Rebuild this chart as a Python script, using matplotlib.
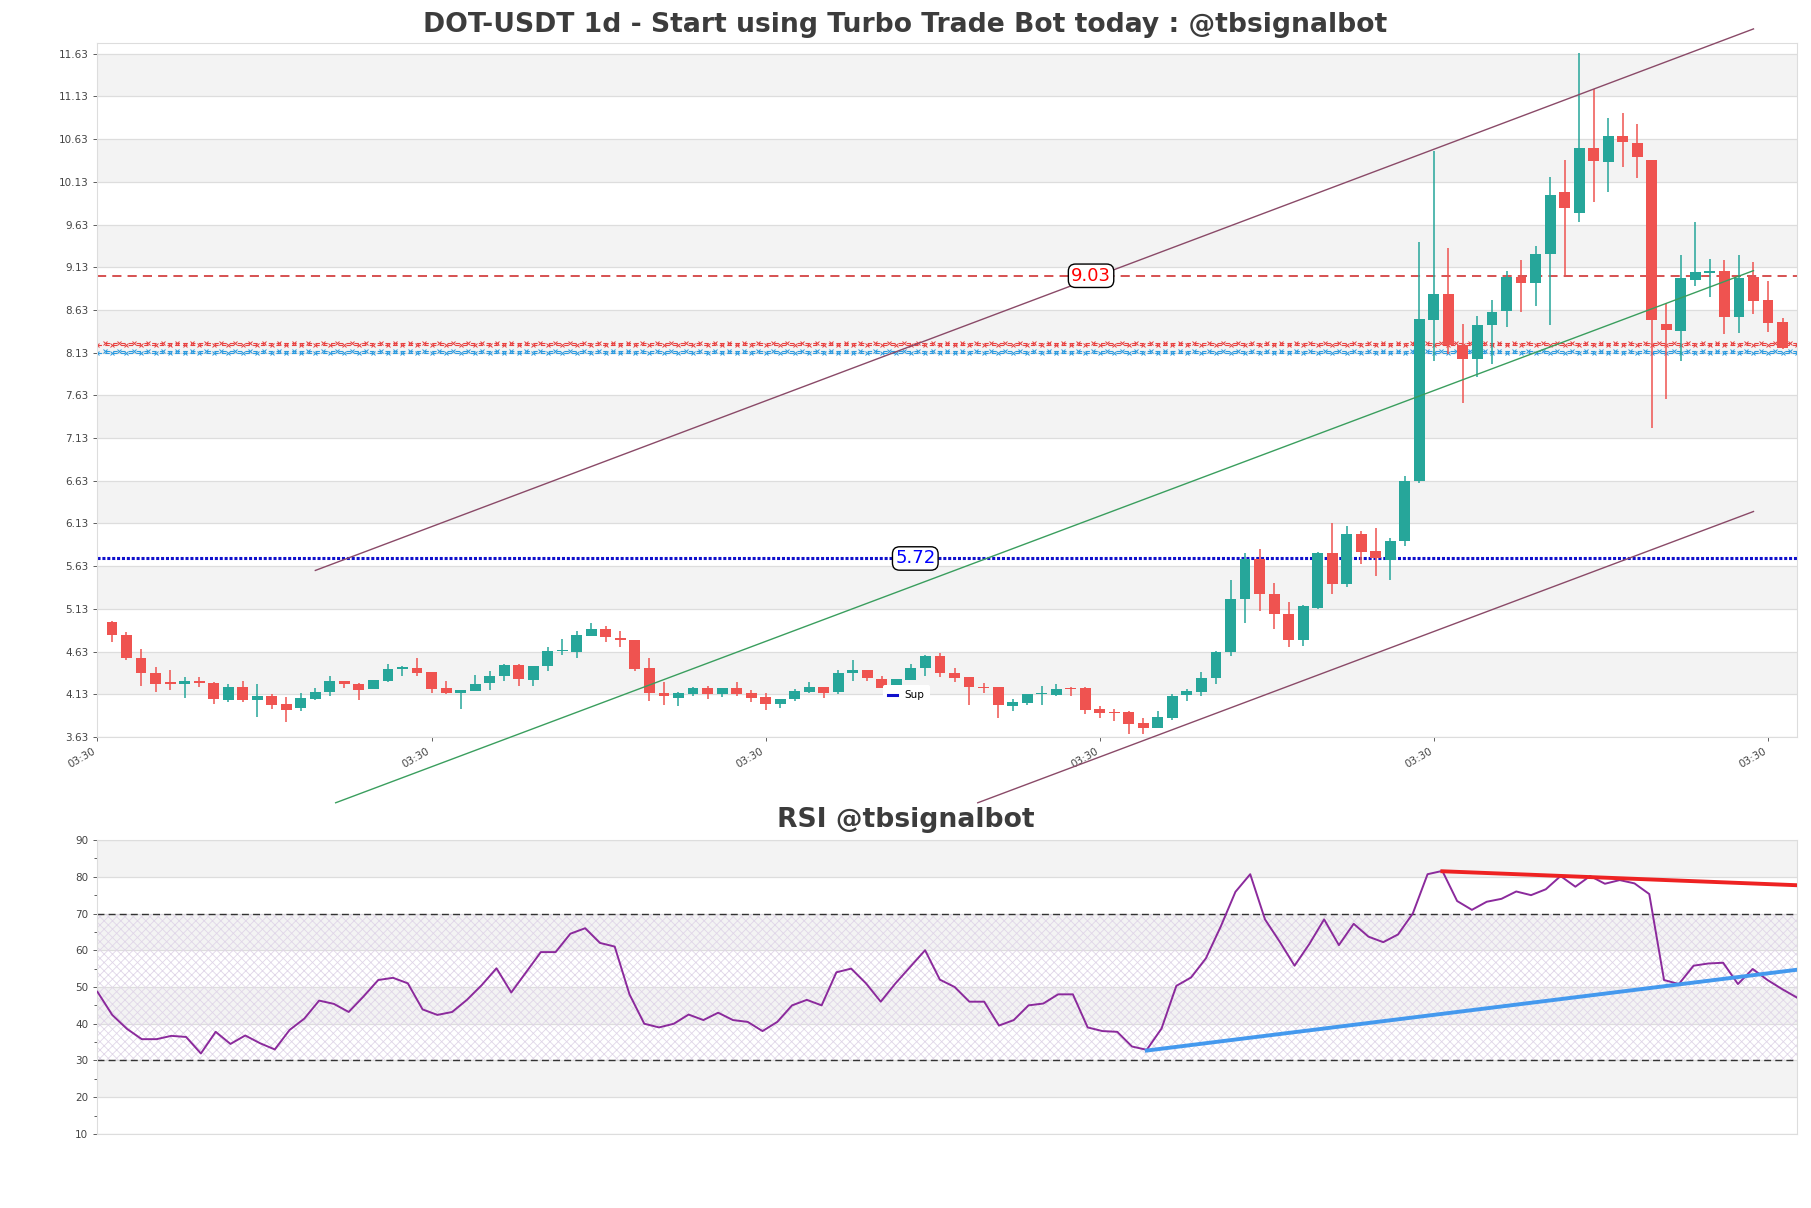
import numpy as np
import matplotlib
matplotlib.use("Agg")
from matplotlib import pyplot as plt
from matplotlib.lines import Line2D

# daily candles
opens = [4.98, 4.82, 4.56, 4.38, 4.27, 4.25, 4.29, 4.26, 4.06, 4.21,
         4.06, 4.11, 4.02, 3.97, 4.08, 4.16, 4.29, 4.25, 4.19, 4.29,
         4.43, 4.44, 4.39, 4.20, 4.15, 4.17, 4.26, 4.34, 4.47, 4.30,
         4.46, 4.64, 4.63, 4.81, 4.89, 4.79, 4.77, 4.44, 4.15, 4.09,
         4.13, 4.20, 4.13, 4.20, 4.14, 4.10, 4.02, 4.07, 4.16, 4.21,
         4.16, 4.38, 4.41, 4.31, 4.22, 4.30, 4.44, 4.58, 4.38, 4.33,
         4.22, 4.21, 3.99, 4.03, 4.13, 4.12, 4.20, 4.20, 3.96, 3.92,
         3.92, 3.79, 3.74, 3.85, 4.12, 4.16, 4.32, 4.63, 5.24, 5.71,
         5.31, 5.07, 4.77, 5.14, 5.79, 5.42, 6.01, 5.81, 5.70, 5.93,
         6.63, 8.51, 8.82, 8.22, 8.06, 8.45, 8.62, 9.02, 8.94, 9.28,
         10.01, 9.77, 10.52, 10.36, 10.67, 10.59, 10.39, 8.47, 8.38, 8.98,
         9.06, 9.09, 8.55, 9.02, 8.75, 8.49]
highs = [4.99, 4.86, 4.66, 4.45, 4.41, 4.33, 4.33, 4.27, 4.25, 4.29,
         4.25, 4.13, 4.10, 4.14, 4.20, 4.35, 4.29, 4.26, 4.30, 4.48,
         4.46, 4.56, 4.39, 4.29, 4.18, 4.36, 4.40, 4.48, 4.48, 4.46,
         4.68, 4.78, 4.87, 4.97, 4.93, 4.87, 4.77, 4.56, 4.27, 4.16,
         4.22, 4.23, 4.20, 4.27, 4.18, 4.15, 4.08, 4.19, 4.27, 4.22,
         4.41, 4.53, 4.42, 4.34, 4.31, 4.48, 4.59, 4.61, 4.44, 4.33,
         4.26, 4.21, 4.07, 4.13, 4.23, 4.25, 4.22, 4.22, 3.99, 3.96,
         3.93, 3.85, 3.93, 4.13, 4.19, 4.39, 4.64, 5.47, 5.78, 5.83,
         5.43, 5.21, 5.17, 5.80, 6.13, 6.10, 6.04, 6.08, 5.96, 6.69,
         9.43, 10.49, 9.36, 8.47, 8.56, 8.75, 9.08, 9.22, 9.38, 10.19,
         10.39, 11.64, 11.22, 10.88, 10.93, 10.81, 10.39, 8.71, 9.27, 9.66,
         9.23, 9.21, 9.27, 9.19, 8.97, 8.54]
lows = [4.74, 4.53, 4.23, 4.16, 4.18, 4.09, 4.21, 4.02, 4.04, 4.04,
        3.86, 3.96, 3.81, 3.93, 4.06, 4.11, 4.20, 4.06, 4.19, 4.27,
        4.34, 4.35, 4.14, 4.13, 3.96, 4.17, 4.18, 4.28, 4.23, 4.23,
        4.40, 4.59, 4.56, 4.81, 4.74, 4.68, 4.40, 4.05, 4.00, 3.99,
        4.11, 4.07, 4.10, 4.11, 4.04, 3.95, 3.97, 4.05, 4.15, 4.09,
        4.13, 4.29, 4.28, 4.20, 4.22, 4.30, 4.35, 4.33, 4.27, 4.00,
        4.14, 3.85, 3.94, 4.00, 4.00, 4.11, 4.11, 3.90, 3.85, 3.82,
        3.66, 3.67, 3.74, 3.83, 4.05, 4.11, 4.25, 4.58, 4.97, 5.11,
        4.90, 4.68, 4.70, 5.13, 5.30, 5.39, 5.65, 5.52, 5.47, 5.87,
        6.60, 8.03, 8.11, 7.54, 7.84, 8.00, 8.43, 8.60, 8.68, 8.45,
        9.04, 9.66, 9.89, 10.01, 10.30, 10.18, 7.25, 7.59, 8.03, 8.91,
        8.78, 8.35, 8.36, 8.58, 8.37, 8.17]
closes = [4.82, 4.55, 4.38, 4.25, 4.25, 4.28, 4.26, 4.07, 4.22, 4.06,
          4.11, 4.01, 3.95, 4.09, 4.16, 4.29, 4.25, 4.18, 4.30, 4.43,
          4.45, 4.38, 4.19, 4.15, 4.18, 4.25, 4.35, 4.47, 4.31, 4.46,
          4.64, 4.65, 4.82, 4.89, 4.80, 4.76, 4.43, 4.15, 4.11, 4.14,
          4.20, 4.13, 4.20, 4.13, 4.09, 4.02, 4.08, 4.17, 4.21, 4.15,
          4.38, 4.41, 4.32, 4.20, 4.31, 4.44, 4.58, 4.38, 4.32, 4.21,
          4.20, 4.00, 4.04, 4.13, 4.135, 4.19, 4.19, 3.95, 3.91, 3.91,
          3.78, 3.74, 3.86, 4.11, 4.17, 4.32, 4.63, 5.25, 5.71, 5.30,
          5.07, 4.77, 5.16, 5.79, 5.42, 6.01, 5.80, 5.73, 5.93, 6.63,
          8.52, 8.82, 8.22, 8.06, 8.45, 8.61, 9.01, 8.94, 9.29, 9.98,
          9.82, 10.52, 10.37, 10.67, 10.60, 10.42, 8.51, 8.39, 9.00, 9.07,
          9.09, 8.55, 9.00, 8.74, 8.48, 8.18]

rsi = [48.7, 42.4, 38.6, 35.8, 35.8, 36.7, 36.4, 31.9, 37.8, 34.5,
       36.8, 34.7, 33.0, 38.3, 41.4, 46.3, 45.4, 43.2, 47.4, 51.9,
       52.5, 51.0, 43.9, 42.4, 43.2, 46.5, 50.5, 55.1, 48.5, 54.0,
       59.5, 59.5, 64.5, 66.0, 62.0, 61.0, 48.0, 40.0, 39.0, 40.0,
       42.5, 41.0, 43.0, 41.0, 40.5, 38.0, 40.5, 45.0, 46.5, 45.0,
       54.0, 55.0, 51.0, 46.0, 51.0, 55.5, 60.0, 52.0, 50.0, 46.0,
       46.0, 39.5, 41.0, 45.0, 45.5, 48.0, 48.0, 39.0, 38.0, 37.8,
       33.8, 32.9, 38.7, 50.3, 52.6, 57.8, 66.4, 75.9, 80.7, 68.4,
       62.3, 55.8, 61.7, 68.4, 61.4, 67.2, 63.7, 62.2, 64.3, 70.0,
       80.7, 81.6, 73.4, 71.0, 73.2, 74.0, 76.0, 75.0, 76.6, 80.2,
       77.3, 80.2, 78.1, 79.1, 78.2, 75.3, 51.9, 50.8, 55.8, 56.4,
       56.6, 50.8, 54.9, 51.9, 49.4, 47.1]

res_level = 9.03
sup_level = 5.72
pivot_red = [8.22, 8.24]
pivot_blue = [8.13, 8.15]

# channel lines (index, price)
chan_upper = [(14, 5.58), (113, 11.92)]
chan_mid = [(15.4, 2.86), (113, 9.09)]
chan_lower = [(59.6, 2.86), (113, 6.27)]
rsi_res = [(91, 81.5), (115, 77.7)]
rsi_sup = [(71, 32.7), (115, 54.7)]

up_col = '#26a69a'
down_col = '#ef5350'
band_col = '#f3f3f3'
grid_col = '#dddddd'
txt_col = '#444444'

fig = plt.figure(figsize=(18.11, 12.08), dpi=100)
ax = fig.add_axes([0.0538, 0.3899, 0.9385, 0.5745])
ax2 = fig.add_axes([0.0538, 0.0613, 0.9385, 0.2433])

n = len(closes)
x = np.arange(n)
o = np.array(opens); c = np.array(closes); h = np.array(highs); l = np.array(lows)
cols = [up_col if cc >= oo else down_col for oo, cc in zip(o, c)]

ymin, ymax = 3.63, 11.755
yt = np.arange(ymin, ymax, 0.5)
for k in range(len(yt) - 1):
    if k % 2 == 1:
        ax.axhspan(yt[k], yt[k + 1], color=band_col, zorder=0, lw=0)
for v in yt:
    ax.axhline(v, color=grid_col, lw=0.9, zorder=0.5)

ax.vlines(x, l, h, color=cols, lw=1.1, zorder=3)
body = np.maximum(np.abs(c - o), 0.012)
ax.bar(x, body, bottom=np.minimum(o, c), width=0.75, color=cols, zorder=4, lw=0)

# levels
ax.axhline(res_level, color='#cc2222', lw=1.1, ls=(0, (6, 4)), zorder=2)
ax.axhline(sup_level, color='#1010cc', lw=2.2, ls=(0, (1, 0.6)), zorder=2)
xx = np.arange(-1, 116.01, 1.0)
for lev, off in zip(pivot_red, [0, 0.5]):
    ax.plot(xx + off, [lev] * len(xx), color='#e8403f', lw=0.8, ls=(0, (4, 3)),
            marker='x', ms=2.6, mew=0.7, zorder=2, clip_on=True)
for lev, off in zip(pivot_blue, [0, 0.5]):
    ax.plot(xx + off, [lev] * len(xx), color='#2a9ae0', lw=0.8, ls=(0, (4, 3)),
            marker='x', ms=2.6, mew=0.7, zorder=2, clip_on=True)
bb = dict(boxstyle='round,pad=0.15,rounding_size=0.4', fc='white', ec='black', lw=1)
ax.text(67.4, res_level, '%.2f' % res_level, color='red', fontsize=13, ha='center', va='center', bbox=bb, zorder=6)
ax.text(55.3, sup_level, '%.2f' % sup_level, color='blue', fontsize=13, ha='center', va='center', bbox=bb, zorder=6)

for pts, col in [(chan_upper, '#8a4a68'), (chan_mid, '#3a9e5e'), (chan_lower, '#8a4a68')]:
    ax.plot([pts[0][0], pts[1][0]], [pts[0][1], pts[1][1]], color=col, lw=1.0, clip_on=False, zorder=5)

ax.set_xlim(-1, 116)
ax.set_ylim(ymin, ymax)
ax.set_yticks(yt)
ax.set_yticklabels(['%.2f' % v for v in yt])
xt = np.arange(-1, 116, 23)
ax.set_xticks(xt)
ax.set_xticklabels(['03:30'] * len(xt), rotation=30, ha='right')
ax.tick_params(axis='both', labelsize=7.5, colors=txt_col, length=3, width=0.6)
for s in ax.spines.values():
    s.set_color(grid_col)
sup_handle = Line2D([], [], color='#1010cc', lw=2.2)
leg = ax.legend([sup_handle], ['Sup'], loc='center', bbox_to_anchor=(0.476, 0.06), fontsize=7.5,
                frameon=True, handlelength=0.8, borderpad=0.5)
leg.get_frame().set_edgecolor('none')
leg.get_frame().set_alpha(1)

# RSI panel
for lo, hi in [(20, 30), (40, 50), (60, 70), (80, 90)]:
    ax2.axhspan(lo, hi, color=band_col, zorder=0, lw=0)
for v in range(10, 91, 10):
    ax2.axhline(v, color=grid_col, lw=0.9, zorder=0.5)
plt.rcParams['hatch.linewidth'] = 0.6
ax2.axhspan(30, 70, facecolor='none', edgecolor='#e0d6e8', hatch='xxxx', lw=0, zorder=0.6)
ax2.axhline(70, color='#333333', lw=1.0, ls=(0, (5, 3)), zorder=2)
ax2.axhline(30, color='#333333', lw=1.0, ls=(0, (5, 3)), zorder=2)
ax2.plot(x, rsi, color='#8b2a9c', lw=1.4, zorder=3)
ax2.plot([rsi_sup[0][0], rsi_sup[1][0]], [rsi_sup[0][1], rsi_sup[1][1]], color='#4499ee', lw=2.8, zorder=4)
ax2.plot([rsi_res[0][0], rsi_res[1][0]], [rsi_res[0][1], rsi_res[1][1]], color='#ee2222', lw=2.8, zorder=4)
ax2.set_xlim(0, n - 1)
ax2.set_ylim(10, 90)
ax2.set_yticks(range(10, 91, 10))
ax2.set_yticks(range(15, 90, 10), minor=True)
ax2.set_xticks([])
ax2.tick_params(axis='y', labelsize=7.5, colors=txt_col, length=3, width=0.6)
ax2.tick_params(axis='y', which='minor', length=2, colors=txt_col)
for s in ax2.spines.values():
    s.set_color(grid_col)

fig.text(0.5, 0.979, 'DOT-USDT 1d - Start using Turbo Trade Bot today : @tbsignalbot',
         ha='center', va='center', fontsize=19.2, fontweight='bold', color='#3c3c3c')
fig.text(0.5, 0.321, 'RSI @tbsignalbot', ha='center', va='center', fontsize=19.2,
         fontweight='bold', color='#3c3c3c')

fig.savefig('out.png', dpi=100)
